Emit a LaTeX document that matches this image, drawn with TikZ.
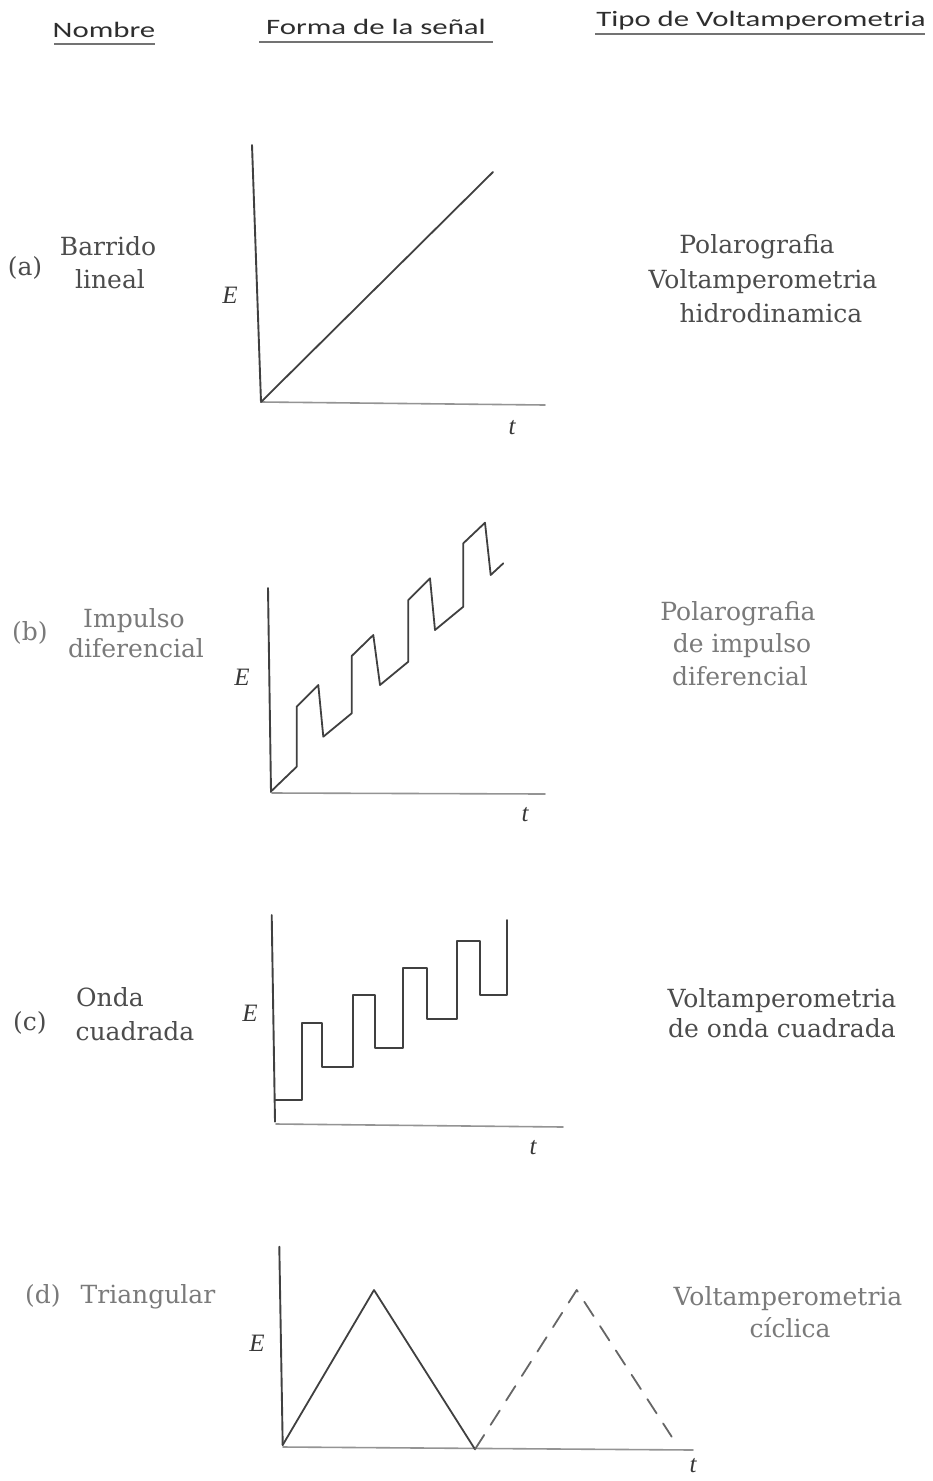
\documentclass[tikz,border=0pt]{standalone}
\usepackage{fontspec}
\setmainfont{DejaVu Serif}
\newfontfamily\headfont{Carlito}
\newfontfamily\axfont{Liberation Serif}
\begin{document}
\begin{tikzpicture}[x=1pt,y=-1pt,
  head/.style={font=\headfont\fontsize{22}{24}\selectfont, text=black!82, inner sep=0pt, anchor=base},
  hline/.style={draw=black!55, line width=1.2pt},
  lbl/.style={font=\fontsize{25}{30}\selectfont, text=black!70, inner sep=0pt, anchor=base},
  lbllight/.style={lbl, text=black!52},
  yax/.style={draw=black!75, line width=1.9pt, line cap=round},
  xax/.style={draw=black!42, line width=1.6pt, line cap=round},
  sig/.style={draw=black!75, line width=1.8pt, line join=round, line cap=round},
  sigdash/.style={sig, draw=black!60, dash pattern=on 17pt off 12pt},
  axl/.style={font=\axfont\itshape\fontsize{25}{25}\selectfont, text=black!78, inner sep=0pt}]
\useasboundingbox (0,0) rectangle (933,1481);
\fill[white] (0,0) rectangle (933,1481);

% ---------- headers ----------
\node[head] (hNombre) at (104,37) {\scalebox{1.4}[1]{Nombre}};
\node[head] (hForma) at (376,34) {\scalebox{1.4}[1]{Forma de la señal}};
\node[head] (hTipo) at (761,26) {\scalebox{1.4}[1]{Tipo de Voltamperometria}};
\draw[hline] (54,44) -- (155,44);
\draw[hline] (259,42) -- (493,42);
\draw[hline] (595,34) -- (925,34);

% ---------- (a) ----------
\node[lbl] (aLet) at (25,275) {(a)};
\node[lbl] (aN1) at (108,255) {Barrido};
\node[lbl] (aN2) at (110,288) {lineal};
\node[lbl] (aT1) at (757,253) {Polarografia};
\node[lbl] (aT2) at (763,288) {Voltamperometria};
\node[lbl] (aT3) at (771,322) {hidrodinamica};
\node[axl] (aE) at (230,295) {E};
\node[axl] (at) at (512,428) {t};
\draw[yax] (252,145) -- (261,402);
\draw[xax] (261,402) -- (545,405);
\draw[sig] (261,402) -- (493,172);

% ---------- (b) ----------
\node[lbllight] (bLet) at (30,640) {(b)};
\node[lbllight] (bN1) at (134,627) {Impulso};
\node[lbllight] (bN2) at (136,657) {diferencial};
\node[lbllight] (bT1) at (738,620) {Polarografia};
\node[lbllight] (bT2) at (742,652) {de impulso};
\node[lbllight] (bT3) at (740,685) {diferencial};
\node[axl] (bE) at (242,677) {E};
\node[axl] (bt) at (525,815) {t};
\draw[yax] (268,588) -- (271,792);
\draw[xax] (272,793) -- (545,794);
\draw[sig] (270.7,791.7) -- (296.7,766.7) -- (296.7,706.7) -- (318.3,685)
  -- (323.3,736.7) -- (351.7,713.3) -- (351.7,656) -- (373.3,635)
  -- (380,685) -- (408.3,661.7) -- (408.3,600) -- (430,578.3)
  -- (435,630) -- (463.3,606.7) -- (463.3,543.3) -- (485,522.7)
  -- (490.7,575) -- (503.3,563.3);

% ---------- (c) ----------
\node[lbl] (cLet) at (30,1030) {(c)};
\node[lbl] (cN1) at (110,1006) {Onda};
\node[lbl] (cN2) at (135,1040) {cuadrada};
\node[lbl] (cT1) at (782,1007) {Voltamperometria};
\node[lbl] (cT2) at (782,1037) {de onda cuadrada};
\node[axl] (cE) at (250,1013) {E};
\node[axl] (ct) at (533,1148) {t};
\draw[yax] (271.7,915) -- (275,1121.7);
\draw[xax] (276,1124) -- (563,1127);
\draw[sig] (275,1100) -- (301.7,1100) -- (301.7,1023.3) -- (321.7,1023.3)
  -- (321.7,1066.7) -- (353.3,1066.7) -- (353.3,995) -- (375,995)
  -- (375,1048.3) -- (403.3,1048.3) -- (403.3,968.3) -- (426.7,968.3)
  -- (426.7,1019.3) -- (456.7,1019.3) -- (456.7,940.7) -- (480,940.7)
  -- (480,995) -- (506.7,995) -- (506.7,920);

% ---------- (d) ----------
\node[lbllight] (dLet) at (43,1303) {(d)};
\node[lbllight] (dN1) at (148,1303) {Triangular};
\node[lbllight] (dT1) at (788,1305) {Voltamperometria};
\node[lbllight] (dT2) at (790,1337) {cíclica};
\node[axl] (dE) at (257,1343) {E};
\node[axl] (dt) at (693,1466) {t};
\draw[yax] (279.3,1246.7) -- (282.7,1445);
\draw[xax] (283,1447) -- (693,1450);
\draw[sig] (282.7,1445) -- (374,1290) -- (475,1449.3);
\draw[sigdash] (475,1449.3) -- (576.7,1290) -- (671.7,1436.7);
\end{tikzpicture}
\end{document}
